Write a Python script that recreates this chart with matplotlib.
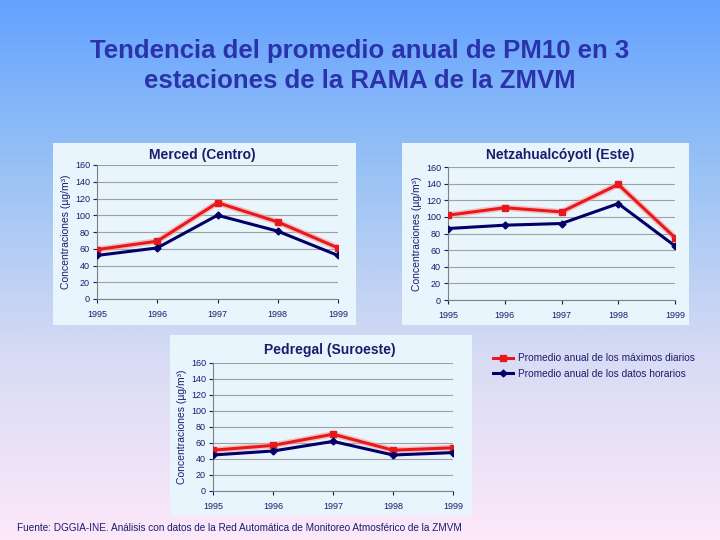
import numpy as np
import matplotlib
matplotlib.use('Agg')
import matplotlib.pyplot as plt
from matplotlib.colors import LinearSegmentedColormap
from matplotlib.patches import Rectangle

plt.rcParams['font.family'] = ['Liberation Sans', 'DejaVu Sans']

years = [1995, 1996, 1997, 1998, 1999]
yticks = [0, 20, 40, 60, 80, 100, 120, 140, 160]

merced_max = [59, 69, 115, 92, 61]
merced_hor = [52, 61, 100, 81, 52]
netza_max = [102, 111, 106, 139, 75]
netza_hor = [86, 90, 92, 116, 65]
pedregal_max = [51, 57, 71, 51, 54]
pedregal_hor = [45, 50, 62, 45, 48]

label_max = 'Promedio anual de los máximos diarios'
label_hor = 'Promedio anual de los datos horarios'
ylab = 'Concentraciones (µg/m³)'

navy = '#1c1c6e'
red = '#e8191c'
dark = '#000066'
panel_bg = '#e8f5fc'

W, H = 720, 540
fig = plt.figure(figsize=(7.2, 5.4), dpi=100)

# background gradient
bg = fig.add_axes([0, 0, 1, 1])
cmap = LinearSegmentedColormap.from_list('bg', ['#64a2ff', '#9cc4f4', '#d8dcf4', '#fde8fa'])
grad = np.linspace(0, 1, 256).reshape(-1, 1)
bg.imshow(grad, aspect='auto', cmap=cmap, extent=[0, 1, 0, 1], origin='upper')
bg.set_xlim(0, 1)
bg.set_ylim(0, 1)
bg.axis('off')


def box(x0, y0, x1, y1):
    # pixel coords (top-left origin) -> figure fraction
    return [x0 / W, 1 - y1 / H, (x1 - x0) / W, (y1 - y0) / H]


def panel(card, plot, title, tx, ty, vmax, vhor):
    c = box(*card)
    fig.patches.append(Rectangle((c[0], c[1]), c[2], c[3], transform=fig.transFigure,
                                 facecolor=panel_bg, edgecolor='none', zorder=1))
    ax = fig.add_axes(box(*plot))
    ax.set_facecolor(panel_bg)
    ax.set_zorder(2)
    ax.plot(years, vmax, color='#f4a0a0', lw=4.5, alpha=0.6, zorder=2)
    ax.plot(years, vmax, color=red, lw=2.2, marker='s', ms=4.5, zorder=3, label=label_max)
    ax.plot(years, vhor, color=dark, lw=2.2, marker='D', ms=3.5, zorder=3, label=label_hor)
    ax.set_xlim(1995, 1999)
    ax.set_ylim(0, 160)
    ax.set_xticks(years)
    ax.set_yticks(yticks)
    ax.grid(axis='y', color='#a0a0a0', lw=0.8)
    ax.set_axisbelow(True)
    for s in ['top', 'right']:
        ax.spines[s].set_visible(False)
    for s in ['left', 'bottom']:
        ax.spines[s].set_color('#808080')
    ax.tick_params(labelsize=6.5, colors=navy, length=3, direction='out', pad=2)
    ax.tick_params(axis='x', pad=5)
    ax.set_ylabel(ylab, fontsize=7.5, color=navy, labelpad=3)
    fig.text(tx / W, 1 - ty / H, title, ha='center', va='center', fontsize=10,
             fontweight='bold', color=navy)
    return ax


ax1 = panel((53, 143, 356, 325), (97, 165, 338, 299), 'Merced (Centro)', 202, 155,
            merced_max, merced_hor)
ax2 = panel((402, 143, 689, 325), (448, 167, 675, 300), 'Netzahualcóyotl (Este)', 560, 155,
            netza_max, netza_hor)
ax3 = panel((170, 335, 472, 515), (213, 363, 453, 491), 'Pedregal (Suroeste)', 330, 350,
            pedregal_max, pedregal_hor)

handles, labels = ax1.get_legend_handles_labels()
fig.legend(handles, labels, loc='upper left', bbox_to_anchor=(484 / W, 1 - 344 / H),
           frameon=False, fontsize=7.3, labelcolor=navy, handlelength=2.0,
           handletextpad=0.5, labelspacing=0.55)

fig.text(360 / W, 1 - 66 / H,
         'Tendencia del promedio anual de PM10 en 3\nestaciones de la RAMA de la ZMVM',
         ha='center', va='center', fontsize=18.5, fontweight='bold', color='#2a33aa',
         linespacing=1.33)

fig.text(17 / W, 1 - 528 / H,
         'Fuente: DGGIA-INE. Análisis con datos de la Red Automática de Monitoreo Atmosférico de la ZMVM',
         ha='left', va='center', fontsize=7.2, color=navy)

fig.savefig('out.png', dpi=100)
